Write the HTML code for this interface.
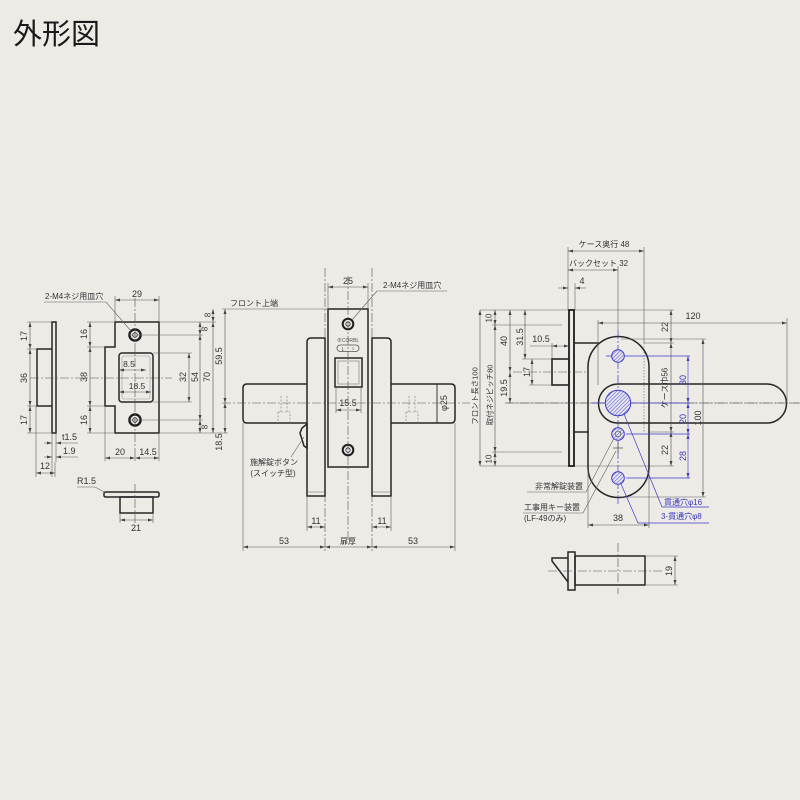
<!DOCTYPE html>
<html><head><meta charset="utf-8"><style>
html,body{margin:0;padding:0;background:#eeebe7;}
svg{display:block}
text{font-family:"Liberation Sans","Noto Sans CJK JP",sans-serif;fill:#333;font-size:9px}
.j{font-size:8px}
.o{stroke:#262626;stroke-width:1.5;fill:none}
.k{stroke:#1e1e1e;stroke-width:2.2;fill:none}
.d{stroke:#606060;stroke-width:0.6;fill:none}
.a{stroke:#505050;stroke-width:0.6;fill:none;marker-start:url(#ar);marker-end:url(#ar)}
.c{stroke:#505050;stroke-width:0.6;fill:none;stroke-dasharray:9 2 2 2}
.b{stroke:#3c3cc8;stroke-width:0.7;fill:none}
.ba{stroke:#3c3cc8;stroke-width:0.6;fill:none;marker-start:url(#ab);marker-end:url(#ab)}
.bc{stroke:#3c3cc8;stroke-width:0.7;fill:none;stroke-dasharray:9 2 2 2}
.bt{fill:#3535b8}
.hl{stroke:#3c3cc8;stroke-width:1;fill:url(#h)}
</style></head><body>
<svg width="800" height="800" viewBox="0 0 800 800">
<defs>
<marker id="ar" viewBox="0 0 10 10" refX="10" refY="5" markerUnits="userSpaceOnUse" markerWidth="5" markerHeight="5" orient="auto-start-reverse"><path d="M0,2L10,5L0,8z" fill="#444"/></marker>
<marker id="ab" viewBox="0 0 10 10" refX="10" refY="5" markerUnits="userSpaceOnUse" markerWidth="5" markerHeight="5" orient="auto-start-reverse"><path d="M0,2L10,5L0,8z" fill="#3c3cc8"/></marker>
<pattern id="h" width="2.6" height="2.6" patternUnits="userSpaceOnUse" patternTransform="rotate(45)"><rect width="2.6" height="2.6" fill="#e6e4ee"/><line x1="0" y1="0" x2="0" y2="2.6" stroke="#4a4ad0" stroke-width="1"/></pattern>
</defs>

<text x="13" y="44" style="font-size:29px;fill:#1a1a1a">外形図</text>

<!-- ===== Strike side view ===== -->
<rect class="o" x="52" y="322" width="4" height="111"/>
<path class="o" d="M52,349H37V406H52"/>
<line class="c" x1="30" y1="378" x2="172" y2="378"/>
<line class="a" x1="30" y1="322" x2="30" y2="349"/>
<line class="a" x1="30" y1="349" x2="30" y2="406"/>
<line class="a" x1="30" y1="406" x2="30" y2="433"/>
<path class="d" d="M27,322H52M27,349H37M27,406H37M27,433H52"/>
<text transform="rotate(-90 24 336)" x="24" y="336" text-anchor="middle" dominant-baseline="central">17</text>
<text transform="rotate(-90 24 378)" x="24" y="378" text-anchor="middle" dominant-baseline="central">36</text>
<text transform="rotate(-90 24 420)" x="24" y="420" text-anchor="middle" dominant-baseline="central">17</text>
<path class="d" d="M52,433V477M56,433V462M36,406V477M55,462V477"/>
<line class="d" x1="44" y1="443" x2="52" y2="443" marker-end="url(#ar)"/>
<line class="d" x1="78" y1="443" x2="56" y2="443" marker-end="url(#ar)"/>
<line class="d" x1="44" y1="457" x2="52" y2="457" marker-end="url(#ar)"/>
<line class="d" x1="78" y1="457" x2="56" y2="457" marker-end="url(#ar)"/>
<text x="62" y="440">t1.5</text>
<text x="63" y="454">1.9</text>
<line class="a" x1="36" y1="473" x2="55" y2="473"/>
<text x="45" y="469" text-anchor="middle">12</text>

<!-- ===== Strike front view ===== -->
<path class="o" d="M115,322H159V433H115V406H105V347H115Z"/>
<rect class="o" x="119" y="353" width="34" height="49" rx="3"/>
<rect x="122" y="356" width="28" height="43" rx="2" stroke="#999" stroke-width="0.6" fill="none"/>
<circle cx="135" cy="335" r="5.6" class="k" style="stroke-width:2.4"/>
<circle cx="135" cy="335" r="2.3" class="o" style="stroke-width:.8"/>
<circle cx="135" cy="420" r="5.6" class="k" style="stroke-width:2.4"/>
<circle cx="135" cy="420" r="2.3" class="o" style="stroke-width:.8"/>
<line class="c" x1="135" y1="298" x2="135" y2="462"/>
<path class="d" d="M128,335H203M128,420H203"/>
<line class="a" x1="115" y1="300" x2="159" y2="300"/>
<path class="d" d="M115,296V322M159,296V322"/>
<text x="137" y="297" text-anchor="middle">29</text>
<text x="45" y="299" class="j">2-M4ネジ用皿穴</text>
<path class="d" d="M44,302H106L131,331"/>
<line class="a" x1="90" y1="322" x2="90" y2="347"/>
<line class="a" x1="90" y1="347" x2="90" y2="406"/>
<line class="a" x1="90" y1="406" x2="90" y2="433"/>
<path class="d" d="M87,322H115M87,347H105M87,406H105M87,433H115"/>
<text transform="rotate(-90 84 334)" x="84" y="334" text-anchor="middle" dominant-baseline="central">16</text>
<text transform="rotate(-90 84 377)" x="84" y="377" text-anchor="middle" dominant-baseline="central">38</text>
<text transform="rotate(-90 84 420)" x="84" y="420" text-anchor="middle" dominant-baseline="central">16</text>
<line class="a" x1="119" y1="370" x2="146" y2="370"/>
<text x="129" y="367" text-anchor="middle" style="font-size:8.5px">8.5</text>
<line class="a" x1="119" y1="392" x2="151" y2="392"/>
<text x="137" y="389" text-anchor="middle" style="font-size:8.5px">18.5</text>
<line class="a" x1="105" y1="458" x2="135" y2="458"/>
<line class="a" x1="135" y1="458" x2="159" y2="458"/>
<path class="d" d="M105,406V461M159,433V461"/>
<text x="120" y="455" text-anchor="middle">20</text>
<text x="148" y="455" text-anchor="middle">14.5</text>
<line class="a" x1="189" y1="353" x2="189" y2="402"/>
<path class="d" d="M153,353H192M153,402H192"/>
<text transform="rotate(-90 183 377)" x="183" y="377" text-anchor="middle" dominant-baseline="central">32</text>
<line class="a" x1="200" y1="322" x2="200" y2="335"/>
<line class="a" x1="200" y1="335" x2="200" y2="420"/>
<line class="a" x1="200" y1="420" x2="200" y2="433"/>
<text transform="rotate(-90 195 377)" x="195" y="377" text-anchor="middle" dominant-baseline="central">54</text>
<text transform="rotate(-90 205 329)" x="205" y="329" text-anchor="middle" dominant-baseline="central" style="font-size:8px">8</text>
<text transform="rotate(-90 205 427)" x="205" y="427" text-anchor="middle" dominant-baseline="central" style="font-size:8px">8</text>
<line class="a" x1="213" y1="309" x2="213" y2="322"/>
<line class="a" x1="213" y1="322" x2="213" y2="433"/>
<path class="d" d="M159,322H216M159,433H228"/>
<text transform="rotate(-90 208 315)" x="208" y="315" text-anchor="middle" dominant-baseline="central" style="font-size:8px">8</text>
<text transform="rotate(-90 207 377)" x="207" y="377" text-anchor="middle" dominant-baseline="central">70</text>
<line class="a" x1="225" y1="309" x2="225" y2="403"/>
<line class="a" x1="225" y1="403" x2="225" y2="433"/>
<text transform="rotate(-90 219 356)" x="219" y="356" text-anchor="middle" dominant-baseline="central">59.5</text>
<text transform="rotate(-90 219 442)" x="219" y="442" text-anchor="middle" dominant-baseline="central">18.5</text>

<!-- Strike bottom view -->
<rect class="o" x="104" y="492" width="55" height="5" rx="1.5"/>
<rect class="o" x="120" y="497" width="33" height="16"/>
<line class="c" x1="135" y1="484" x2="135" y2="531"/>
<text x="77" y="484">R1.5</text>
<path class="d" d="M77,487H95L106,493"/>
<line class="a" x1="120" y1="520" x2="153" y2="520"/>
<path class="d" d="M120,513V523M153,513V523"/>
<text x="136" y="531" text-anchor="middle">21</text>

<!-- ===== Middle lever view ===== -->
<line class="c" x1="325" y1="268" x2="325" y2="551"/>
<line class="c" x1="372" y1="268" x2="372" y2="551"/>
<path class="o" d="M325,338H311Q307,338 307,342V496H325Z" fill="#eeebe7"/>
<line class="d" x1="307" y1="492" x2="325" y2="492"/>
<path class="o" d="M372,338H387Q391,338 391,342V496H372Z" fill="#eeebe7"/>
<line class="d" x1="372" y1="492" x2="391" y2="492"/>
<rect class="o" x="328" y="309" width="40" height="158" fill="#eeebe7"/>
<line class="a" x1="328" y1="287" x2="368" y2="287"/>
<path class="d" d="M328,283V309M368,283V309"/>
<text x="348" y="284" text-anchor="middle">25</text>
<circle cx="348" cy="324" r="5.3" class="k" style="stroke-width:2"/>
<circle cx="348" cy="324" r="2.2" class="o" style="stroke-width:.8"/>
<circle cx="348" cy="450" r="5.3" class="k" style="stroke-width:2"/>
<circle cx="348" cy="450" r="2.2" class="o" style="stroke-width:.8"/>
<text x="348" y="342" text-anchor="middle" style="font-size:5px;fill:#555">⊕CORBL</text>
<rect x="337" y="345" width="22" height="6.5" rx="3.2" stroke="#555" stroke-width="0.8" fill="none"/>
<text x="343" y="351" text-anchor="middle" style="font-size:5.5px;fill:#555">L</text>
<text x="353" y="350" text-anchor="middle" style="font-size:4px;fill:#555">≡</text>
<rect class="o" x="335" y="358" width="27" height="29"/>
<rect x="338" y="361" width="21" height="23" stroke="#777" stroke-width="0.6" fill="none"/>
<line class="a" x1="336" y1="410" x2="361" y2="410"/>
<path class="d" d="M336,387V413M361,387V413"/>
<text x="348" y="406" text-anchor="middle">15.5</text>
<line class="c" x1="348" y1="276" x2="348" y2="540"/>
<path class="o" d="M307,384H247Q243,384 243,388V419Q243,423 247,423H307" fill="#eeebe7"/>
<path class="o" d="M391,384H451Q455,384 455,388V419Q455,423 451,423H391" fill="#eeebe7"/>
<line class="o" x1="437" y1="384" x2="437" y2="423" style="stroke-width:.9"/>
<line class="c" x1="222" y1="403" x2="470" y2="403"/>
<path d="M281,396V412M287,396V412M278,412H290V423M278,412V423M409,396V412M415,396V412M406,412H418V423M406,412V423" stroke="#777" stroke-width="0.6" fill="none" stroke-dasharray="2 1.5"/>
<text transform="rotate(-90 444 403)" x="444" y="403" text-anchor="middle" dominant-baseline="central">φ25</text>
<polygon class="o" points="307,424 302,428 300,433 304,446 307,448" fill="#eeebe7"/>
<path class="d" d="M291,457L304,437"/>
<text x="274" y="465" text-anchor="middle" class="j">施解錠ボタン</text>
<text x="273" y="476" text-anchor="middle" class="j">(スイッチ型)</text>
<line class="a" x1="307" y1="527" x2="325" y2="527"/>
<line class="a" x1="372" y1="527" x2="391" y2="527"/>
<path class="d" d="M307,496V531M391,496V531"/>
<text x="316" y="524" text-anchor="middle">11</text>
<text x="382" y="524" text-anchor="middle">11</text>
<line class="a" x1="243" y1="547" x2="325" y2="547"/>
<line class="a" x1="325" y1="547" x2="372" y2="547"/>
<line class="a" x1="372" y1="547" x2="455" y2="547"/>
<path class="d" d="M243,423V551M455,423V551"/>
<text x="284" y="544" text-anchor="middle">53</text>
<text x="348" y="544" text-anchor="middle" class="j">扉厚</text>
<text x="413" y="544" text-anchor="middle">53</text>
<text x="254" y="306" text-anchor="middle" class="j">フロント上端</text>
<path class="d" d="M222,309H328"/>
<text x="383" y="288" class="j">2-M4ネジ用皿穴</text>
<path class="d" d="M377,291H447M377,291L352,320"/>

<!-- ===== Right side view ===== -->
<text x="604" y="247" text-anchor="middle" class="j">ケース奥行 48</text>
<line class="a" x1="568" y1="251" x2="644" y2="251"/>
<path class="d" d="M568,247V310M644,247V343"/>
<line x1="644" y1="343" x2="644" y2="432" stroke="#777" stroke-width="0.7" stroke-dasharray="1.5 1.5"/>
<text x="569" y="266" class="j">バックセット 32</text>
<line class="a" x1="568" y1="270" x2="618" y2="270"/>
<path class="d" d="M618,266V330"/>
<text x="582" y="284" text-anchor="middle">4</text>
<line class="d" x1="558" y1="288" x2="568" y2="288" marker-end="url(#ar)"/>
<line class="d" x1="586" y1="288" x2="575" y2="288" marker-end="url(#ar)"/>
<path class="d" d="M575,283V310"/>
<path class="d" d="M480,310H674M480,466H674M644,343H674M649,432H674M492,325H562M492,452H562M507,403H598M522,359H552M529,385H552M552,343V359"/>
<rect class="k" x="569" y="310" width="5" height="156" style="stroke-width:1.8"/>
<path class="o" d="M574,343H599M574,432H589"/>
<rect class="o" x="552" y="359" width="17" height="26" style="stroke-width:1.6"/>
<line class="c" x1="513" y1="372" x2="586" y2="372"/>
<path class="o" d="M588,367A30.5,30.5 0 0 1 649,367V467A30.5,30.5 0 0 1 588,467Z"/>
<line class="c" x1="505" y1="403" x2="800" y2="403"/>
<path class="o" d="M618,384H767A19.5,19.5 0 0 1 767,423H618A19.5,19.5 0 0 1 618,384Z" fill="#eeebe7"/>
<line class="c" x1="598" y1="403" x2="800" y2="403"/>
<line class="bc" x1="618" y1="330" x2="618" y2="505"/>
<path class="b" d="M606,356H690M626,434H690M626,478H690M592,403H690"/>
<circle cx="618" cy="356" r="6.3" class="hl"/>
<circle cx="618" cy="403" r="12.7" class="hl"/>
<circle cx="618" cy="434" r="6.3" class="hl"/>
<circle cx="618" cy="434" r="2.8" stroke="#555" stroke-width="0.7" fill="none"/>
<circle cx="618" cy="478" r="6.3" class="hl"/>
<path d="M613,448H623M618,443V453" stroke="#555" stroke-width="0.8"/>
<line class="ba" x1="688" y1="356" x2="688" y2="403"/>
<line class="ba" x1="688" y1="403" x2="688" y2="434"/>
<line class="ba" x1="688" y1="434" x2="688" y2="478"/>
<text transform="rotate(-90 683 380)" x="683" y="380" text-anchor="middle" dominant-baseline="central" class="bt">30</text>
<text transform="rotate(-90 683 419)" x="683" y="419" text-anchor="middle" dominant-baseline="central" class="bt">20</text>
<text transform="rotate(-90 683 456)" x="683" y="456" text-anchor="middle" dominant-baseline="central" class="bt">28</text>
<line class="a" x1="671" y1="310" x2="671" y2="343"/>
<line class="a" x1="671" y1="343" x2="671" y2="432"/>
<line class="a" x1="671" y1="432" x2="671" y2="466"/>
<text transform="rotate(-90 665 327)" x="665" y="327" text-anchor="middle" dominant-baseline="central">22</text>
<text transform="rotate(-90 665 388)" x="665" y="388" text-anchor="middle" dominant-baseline="central" class="j">ケース巾56</text>
<text transform="rotate(-90 665 450)" x="665" y="450" text-anchor="middle" dominant-baseline="central">22</text>
<line class="a" x1="598" y1="323" x2="787" y2="323"/>
<path class="d" d="M598,320V385M787,318V403"/>
<text x="693" y="319" text-anchor="middle">120</text>
<line class="a" x1="703" y1="339" x2="703" y2="497"/>
<path class="d" d="M621,339H706M621,497H706"/>
<text transform="rotate(-90 698 418)" x="698" y="418" text-anchor="middle" dominant-baseline="central">100</text>
<line class="a" x1="588" y1="525" x2="649" y2="525"/>
<path class="d" d="M588,470V528M649,470V528"/>
<text x="618" y="521" text-anchor="middle">38</text>
<line class="a" x1="480" y1="310" x2="480" y2="466"/>
<text transform="rotate(-90 475 396)" x="475" y="396" text-anchor="middle" dominant-baseline="central" style="font-size:7.5px">フロント長さ100</text>
<line class="a" x1="495" y1="310" x2="495" y2="325"/>
<line class="a" x1="495" y1="325" x2="495" y2="452"/>
<line class="a" x1="495" y1="452" x2="495" y2="466"/>
<text transform="rotate(-90 489 318)" x="489" y="318" text-anchor="middle" dominant-baseline="central" style="font-size:8px">10</text>
<text transform="rotate(-90 490 395)" x="490" y="395" text-anchor="middle" dominant-baseline="central" style="font-size:7.5px">取付ネジピッチ80</text>
<text transform="rotate(-90 489 459)" x="489" y="459" text-anchor="middle" dominant-baseline="central" style="font-size:8px">10</text>
<line class="a" x1="510" y1="310" x2="510" y2="372"/>
<line class="a" x1="510" y1="372" x2="510" y2="403"/>
<text transform="rotate(-90 504 341)" x="504" y="341" text-anchor="middle" dominant-baseline="central">40</text>
<text transform="rotate(-90 504 388)" x="504" y="388" text-anchor="middle" dominant-baseline="central">19.5</text>
<line class="a" x1="525" y1="310" x2="525" y2="359"/>
<text transform="rotate(-90 520 337)" x="520" y="337" text-anchor="middle" dominant-baseline="central">31.5</text>
<line class="a" x1="532" y1="359" x2="532" y2="385"/>
<text transform="rotate(-90 527 372)" x="527" y="372" text-anchor="middle" dominant-baseline="central">17</text>
<line class="d" x1="530" y1="346" x2="552" y2="346"/>
<line class="a" x1="552" y1="346" x2="569" y2="346"/>
<text x="541" y="342" text-anchor="middle">10.5</text>
<text x="583" y="489" text-anchor="end" class="j">非常解錠装置</text>
<path class="d" d="M527,492H586L614,438"/>
<text x="580" y="510" text-anchor="end" class="j">工事用キー装置</text>
<path class="d" d="M523,513H583L616,451"/>
<text x="524" y="521" class="j">(LF-49のみ)</text>
<text x="664" y="505" class="j bt">貫通穴φ16</text>
<path class="b" d="M624,414L662,507H709"/>
<text x="661" y="519" class="j bt">3-貫通穴φ8</text>
<path class="b" d="M621,484L638,523H709"/>

<!-- ===== Bottom right part ===== -->
<rect class="o" x="568" y="552" width="7" height="38"/>
<rect class="o" x="575" y="556" width="70" height="29"/>
<path class="o" d="M568,558H552V561L568,582"/>
<line class="c" x1="548" y1="571" x2="662" y2="571"/>
<line class="c" x1="618" y1="543" x2="618" y2="594"/>
<line class="a" x1="675" y1="556" x2="675" y2="585"/>
<path class="d" d="M645,556H678M645,585H678"/>
<text transform="rotate(-90 669 571)" x="669" y="571" text-anchor="middle" dominant-baseline="central">19</text>
</svg>
</body></html>
